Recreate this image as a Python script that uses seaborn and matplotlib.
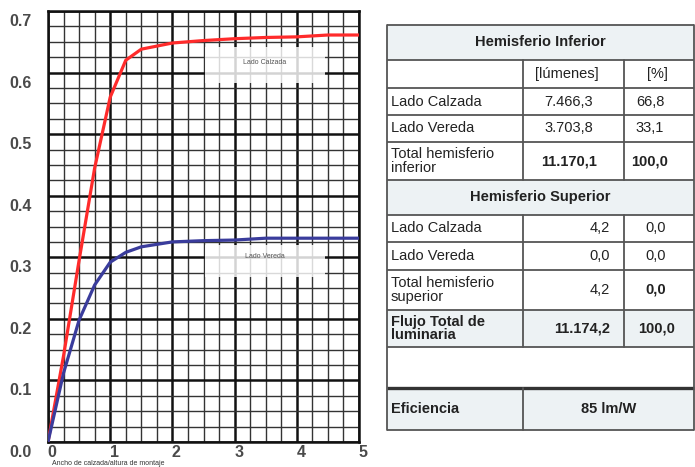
import numpy as np
import pandas as pd
import seaborn as sns
import matplotlib.pyplot as plt
from matplotlib.patches import Rectangle
from matplotlib.ticker import MultipleLocator, FormatStrFormatter
from matplotlib.transforms import ScaledTranslation

# curvas (ancho de calzada / altura de montaje vs factor de utilizacion)
x_calzada = [0, 0.25, 0.5, 0.75, 1.0, 1.25, 1.5, 2.0, 2.5, 3.0, 3.5, 4.0, 4.5, 5.0]
y_calzada = [0, 0.14, 0.295, 0.445, 0.56, 0.62, 0.638, 0.648, 0.652, 0.655, 0.657, 0.658, 0.661, 0.661]
x_vereda = [0, 0.25, 0.5, 0.75, 1.0, 1.25, 1.5, 2.0, 2.5, 3.0, 3.5, 4.0, 4.5, 5.0]
y_vereda = [0, 0.112, 0.198, 0.255, 0.292, 0.308, 0.317, 0.325, 0.327, 0.328, 0.331, 0.331, 0.331, 0.331]
xlabel = "Ancho de calzada/altura de montaje"

# tabla
inf_rows = ["Lado Calzada", "Lado Vereda", "Total hemisferio\ninferior"]
inf_lum = ["7.466,3", "3.703,8", "11.170,1"]
inf_pct = ["66,8", "33,1", "100,0"]
sup_rows = ["Lado Calzada", "Lado Vereda", "Total hemisferio\nsuperior"]
sup_lum = ["4,2", "0,0", "4,2"]
sup_pct = ["0,0", "0,0", "0,0"]
total_label = "Flujo Total de\nluminaria"
total_lum = "11.174,2"
total_pct = "100,0"
efic_label = "Eficiencia"
efic_value = "85 lm/W"

sns.set_style("white")
plt.rcParams["font.family"] = ["Liberation Sans", "DejaVu Sans"]

fig = plt.figure(figsize=(6.95, 4.67), dpi=100)
W, H = 695, 467

# ---- grafico ----
ax = fig.add_axes([48 / W, 1 - 442 / H, 311 / W, 431 / H])
df = pd.concat([
    pd.DataFrame({"x": x_calzada, "y": y_calzada, "lado": "Lado Calzada"}),
    pd.DataFrame({"x": x_vereda, "y": y_vereda, "lado": "Lado Vereda"}),
])
sns.lineplot(data=df, x="x", y="y", hue="lado", palette=["#ff2b2b", "#3a3c9c"],
             linewidth=2.3, legend=False, ax=ax, zorder=3)

ax.set_xlim(0, 5)
ax.set_ylim(0, 0.7)
ax.xaxis.set_major_locator(MultipleLocator(1))
ax.xaxis.set_minor_locator(MultipleLocator(0.25))
ax.yaxis.set_major_locator(MultipleLocator(0.1))
ax.yaxis.set_minor_locator(MultipleLocator(0.025))
ax.yaxis.set_major_formatter(FormatStrFormatter("%.1f"))
ax.set_axisbelow(True)
ax.grid(which="major", color="#111111", linewidth=1.8)
ax.grid(which="minor", color="#333333", linewidth=1.0)
for s in ax.spines.values():
    s.set_color("#111111")
    s.set_linewidth(1.8)
ax.tick_params(which="both", length=0)
ax.tick_params(axis="y", pad=12, labelsize=11.5, labelcolor="#4a4a4a")
ax.tick_params(axis="x", pad=2, labelsize=11.5, labelcolor="#4a4a4a")
ax.set_xlabel("")
ax.set_ylabel("")
for lbl in ax.get_yticklabels():
    lbl.set_fontweight("bold")
    lbl.set_transform(lbl.get_transform() + ScaledTranslation(0, -0.09, fig.dpi_scale_trans))
for lbl in ax.get_xticklabels():
    lbl.set_fontweight("bold")
    lbl.set_transform(lbl.get_transform() + ScaledTranslation(0.04, 0, fig.dpi_scale_trans))
ax.text(0.012, -0.049, xlabel, transform=ax.transAxes, fontsize=5, color="#333333",
        ha="left", va="center")

# cajas de etiquetas
ax.add_patch(Rectangle((2.52, 0.583), 1.93, 0.059, facecolor="white", alpha=0.82,
                       edgecolor="none", zorder=1))
ax.text(3.49, 0.616, "Lado Calzada", fontsize=5, color="#555555", ha="center", va="center", zorder=2)
ax.add_patch(Rectangle((2.52, 0.268), 1.93, 0.052, facecolor="white", alpha=0.82,
                       edgecolor="none", zorder=1))
ax.text(3.49, 0.302, "Lado Vereda", fontsize=5, color="#555555", ha="center", va="center", zorder=2)

# ---- tabla ----
at = fig.add_axes([0, 0, 1, 1])
at.set_xlim(0, W)
at.set_ylim(H, 0)
at.axis("off")

L, C1, C2, R = 387, 523, 624, 694
rows = [25, 60, 88, 115, 142, 180, 215, 242, 270, 310, 347, 388, 430]
light = "#edf2f4"
line_c = "#555555"
txt_c = "#222222"
fs = 10.5

for i in range(len(rows) - 1):
    y0, y1 = rows[i], rows[i + 1]
    col = light if i in (0, 5, 9, 11) else "white"
    at.add_patch(Rectangle((L, y0), R - L, y1 - y0, facecolor=col, edgecolor="none"))

# lineas horizontales
for y in rows:
    if y == 388:
        at.plot([L, R], [y, y], color="#333333", lw=2.4, solid_capstyle="butt")
    else:
        at.plot([L, R], [y, y], color=line_c, lw=1.3, solid_capstyle="butt")
at.plot([L, L], [rows[0], rows[-1]], color=line_c, lw=1.3)
at.plot([R, R], [rows[0], rows[-1]], color=line_c, lw=1.3)
# lineas verticales
for y0, y1 in [(60, 180), (215, 347)]:
    at.plot([C1, C1], [y0, y1], color=line_c, lw=1.3)
    at.plot([C2, C2], [y0, y1], color=line_c, lw=1.3)
at.plot([C1, C1], [388, 430], color=line_c, lw=1.3)

def tx(x, y, s, ha="left", bold=False, size=fs):
    at.text(x, y, s, ha=ha, va="center", fontsize=size, color=txt_c,
            fontweight="bold" if bold else "normal", linespacing=0.95)

tx((L + R) / 2, 42.5, "Hemisferio Inferior", ha="center", bold=True)
tx(567, 74, "[lúmenes]", ha="center")
tx(657, 74, "[%]", ha="center")
for k in range(3):
    yc = (rows[2 + k] + rows[3 + k]) / 2
    tx(391, yc, inf_rows[k])
    tx(569, yc, inf_lum[k], ha="center", bold=(k == 2))
    tx(650, yc, inf_pct[k], ha="center", bold=(k == 2))

tx((L + R) / 2, 197.5, "Hemisferio Superior", ha="center", bold=True)
for k in range(3):
    yc = (rows[6 + k] + rows[7 + k]) / 2
    tx(391, yc, sup_rows[k])
    tx(610, yc, sup_lum[k], ha="right")
    tx(656, yc, sup_pct[k], ha="center", bold=(k == 2))

tx(391, 328.5, total_label, bold=True)
tx(610, 328.5, total_lum, ha="right", bold=True)
tx(657, 328.5, total_pct, ha="center", bold=True)

tx(391, 409, efic_label, bold=True)
tx((C1 + R) / 2, 409, efic_value, ha="center", bold=True)

fig.savefig("out.png", dpi=100)
